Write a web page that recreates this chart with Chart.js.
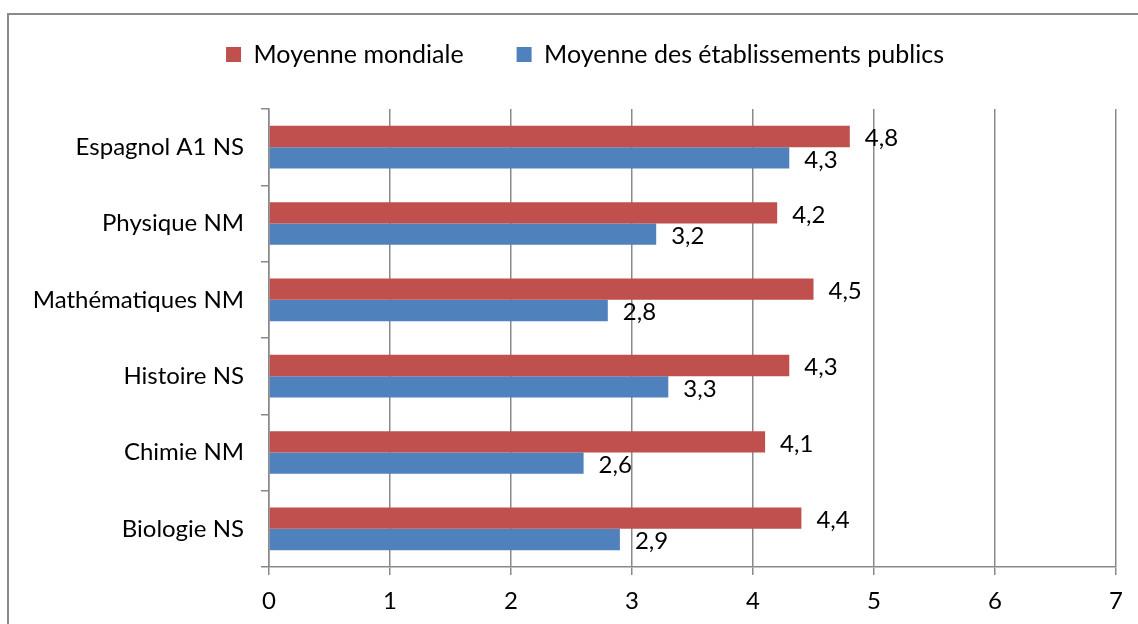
<!DOCTYPE html>
<html>
<head>
<meta charset="utf-8">
<script src="https://cdn.jsdelivr.net/npm/chart.js@4.4.1/dist/chart.umd.min.js"></script>
<style>
  html, body { margin: 0; padding: 0; background: #fff; overflow: hidden; }
  #wrap { position: relative; width: 1138px; height: 624px; }
  #frame { position: absolute; left: 7px; top: 13px; width: 1200px; height: 700px; border: 2px solid #8a8a8a; }
  #reportChart { position: absolute; left: 0; top: 0; }
</style>
</head>
<body>
<div id="wrap">
  <div id="frame"></div>
  <canvas id="reportChart" width="1138" height="624"></canvas>
</div>
<script>
var categories = ['Espagnol A1 NS', 'Physique NM', 'Mathématiques NM', 'Histoire NS', 'Chimie NM', 'Biologie NS'];
var mondiale = [4.8, 4.2, 4.5, 4.3, 4.1, 4.4];
var publics = [4.3, 3.2, 2.8, 3.3, 2.6, 2.9];
var xTicks = [0, 1, 2, 3, 4, 5, 6, 7];

var fontFamily = 'Lato, "Open Sans", sans-serif';
var fontSize = 24;

// draw the value next to the end of each bar, with a comma as decimal mark
const barValues = {
    id: 'barValues',
    afterDatasetsDraw(chart) {
        const ctx = chart.ctx;
        ctx.save();
        ctx.font = fontSize + 'px ' + fontFamily;
        ctx.fillStyle = '#000';
        ctx.textAlign = 'left';
        ctx.textBaseline = 'middle';
        chart.data.datasets.forEach(function(ds, i){
            chart.getDatasetMeta(i).data.forEach(function(bar, j){
                let txt = String(ds.data[j]).replace('.', ',');
                ctx.fillText(txt, bar.x + 15, bar.y + 2);
            });
        });
        ctx.restore();
    }
};

// legend in the original is centred a bit right of the canvas middle
const legendShift = {
    id: 'legendShift',
    afterLayout(chart) {
        chart.legend.left += 54;
        chart.legend.width -= 54;
    }
};

Chart.defaults.font.family = fontFamily;
Chart.defaults.font.size = fontSize;
Chart.defaults.color = '#000';

const data = {
    labels: categories,
    datasets: [{
        label: 'Moyenne mondiale',
        backgroundColor: '#C0504D',
        data: mondiale,
        categoryPercentage: 0.56,
        barPercentage: 1.0
    },
    {
        label: 'Moyenne des établissements publics',
        backgroundColor: '#4F81BD',
        data: publics,
        categoryPercentage: 0.56,
        barPercentage: 1.0
    }]
};

const config = {
    type: 'bar',
    data: data,
    options: {
        indexAxis: 'y',
        responsive: false,
        animation: false,
        layout: {
            autoPadding: false,
            padding: { top: -11, right: 22, bottom: 0, left: 0 }
        },
        plugins: {
            legend: {
                position: 'top',
                weight: 1000,
                labels: {
                    boxWidth: 15,
                    boxHeight: 15,
                    padding: 53,
                    font: { size: 25 }
                }
            },
            // empty title used only as a spacer under the legend
            title: {
                display: true,
                text: ' ',
                position: 'top',
                weight: 500,
                padding: { top: 8, bottom: 0 },
                font: { size: 20 }
            },
            tooltip: { enabled: false }
        },
        scales: {
            x: {
                min: 0,
                max: 7,
                ticks: {
                    stepSize: 1,
                    padding: 12,
                    callback: function(v){ return xTicks.indexOf(v) >= 0 ? String(v) : ''; }
                },
                grid: {
                    color: '#898989',
                    lineWidth: 1.5,
                    tickLength: 8
                },
                border: { color: '#898989', width: 1.5 },
                afterFit: function(scale){ scale.height = 57; }
            },
            y: {
                ticks: { padding: 17 },
                grid: {
                    offset: true,
                    drawOnChartArea: false,
                    color: '#898989',
                    lineWidth: 1.5,
                    tickLength: 8
                },
                border: { color: '#898989', width: 1.5 },
                afterFit: function(scale){ scale.width = 269; }
            }
        }
    },
    plugins: [barValues, legendShift]
};

var reportChart = new Chart(document.getElementById('reportChart'), config);
</script>
</body>
</html>
